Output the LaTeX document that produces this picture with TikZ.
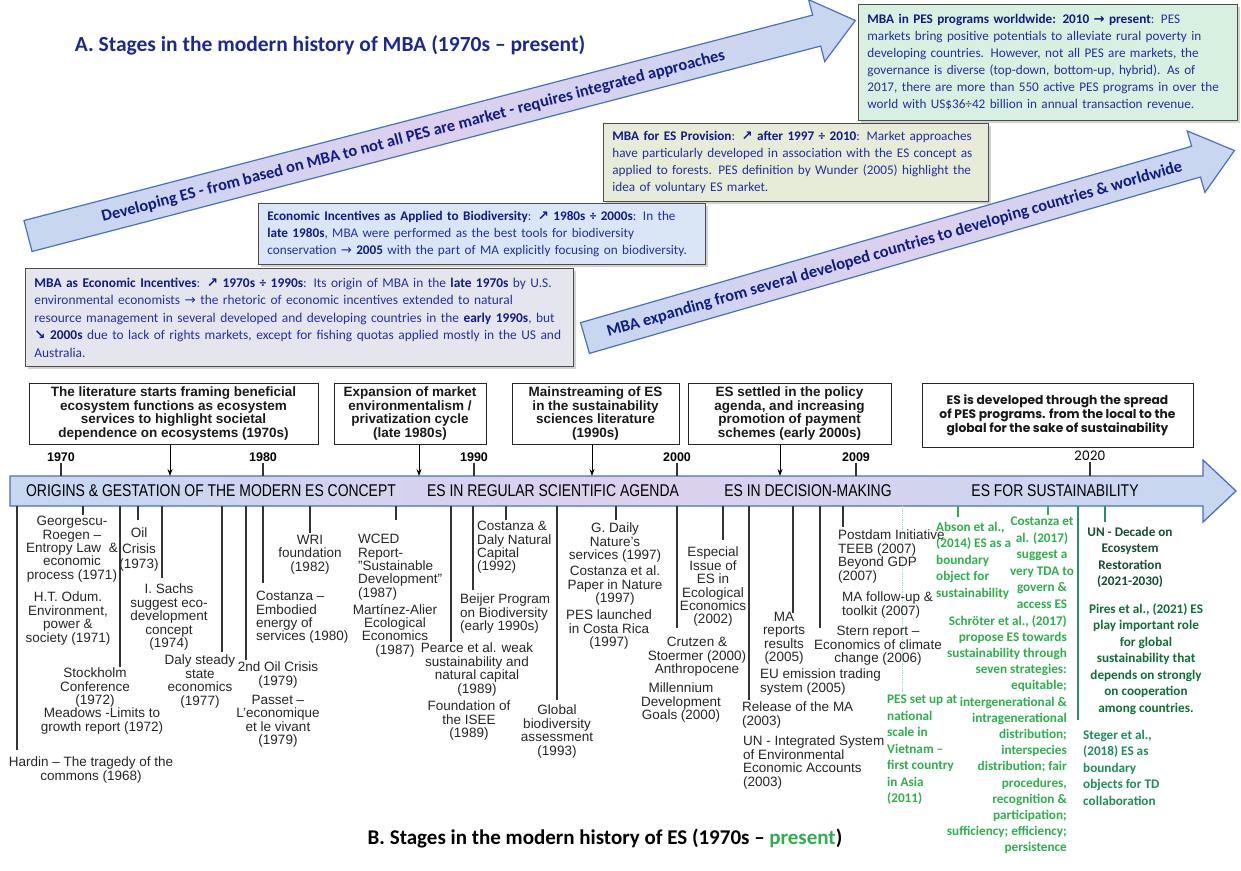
\documentclass[tikz,border=0pt]{standalone}
\usepackage{fontspec}
\setmainfont{Liberation Sans}
\newfontfamily\calfont{Carlito}
\newfontfamily\narrowfont[FakeStretch=0.82]{Liberation Sans}
\newfontfamily\gothfont{Poppins}
\newfontfamily\symfont{DejaVu Sans}
\usetikzlibrary{shadows,arrows.meta}
\definecolor{navyt}{HTML}{2230A0}
\definecolor{navyb}{HTML}{0F1C85}
\definecolor{titblue}{HTML}{1A2A8C}
\definecolor{bgreen}{HTML}{D8F0E0}
\definecolor{bolive}{HTML}{E6ECD7}
\definecolor{bblue}{HTML}{DAE5F5}
\definecolor{bgray}{HTML}{E5E6ED}
\definecolor{arrA}{HTML}{C6D7F0}
\definecolor{arrB}{HTML}{DDD0EC}
\definecolor{arrline}{HTML}{4A70C0}
\definecolor{labc}{HTML}{262626}
\definecolor{gA}{HTML}{2EAF4C}
\definecolor{gB}{HTML}{174D34}
\definecolor{gC}{HTML}{0F6E36}
\definecolor{gD}{HTML}{1E8C5C}
\definecolor{gline}{HTML}{2A8C6C}
\definecolor{gthin}{HTML}{A5DCAE}
\newlength\bw
\newcommand\jl[1]{\makebox[\bw][s]{#1}\\}
\newcommand\jlast[1]{\makebox[\bw][s]{#1}}
\newcommand\bld[1]{\textbf{\color{navyb}#1}}
\newcommand\ua{{\symfont\bfseries\color{navyb}↗}}
\newcommand\da{{\symfont\bfseries\color{navyb}↘}}
\newcommand\ra{{\symfont →}}
\begin{document}
\begin{tikzpicture}[x=1pt,y=-1pt,
  bigarrow/.style={draw=arrline, line width=1.2pt, left color=arrA, right color=arrA, middle color=arrB},
  arrtext/.style={font=\calfont\bfseries\fontsize{16.5}{18}\selectfont, text=navyb, inner sep=0pt},
  mbabox/.style={draw=black!70, line width=0.8pt, inner xsep=9pt, inner ysep=4pt, anchor=north west, align=left, text=navyt, font=\calfont\fontsize{13.2}{17}\selectfont, drop shadow={shadow xshift=3pt,shadow yshift=-3pt,fill=black!35}},
  hbox/.style={draw=black!85, line width=1pt, fill=white, align=center, font=\bfseries\fontsize{13.5}{13.5}\selectfont, inner sep=2pt, text=black!90},
  hdarr/.style={-{Stealth[length=7pt,width=5pt]}, line width=0.9pt},
  tick/.style={line width=1.2pt, draw=black!80},
  yr/.style={font=\bfseries\fontsize{12.5}{14}\selectfont, inner sep=1pt},
  bartxt/.style={font=\narrowfont\fontsize{17}{20}\selectfont, inner sep=0pt},
  lab/.style={inner sep=0pt, text=labc, font=\fontsize{13.5}{13.4}\selectfont, align=center, anchor=north},
  labl/.style={lab, align=left, anchor=north west},
  grn/.style={inner sep=0pt, font=\calfont\bfseries\fontsize{13.2}{16.5}\selectfont}
]
\useasboundingbox (0,0) rectangle (1241,870);
\fill[white] (0,0) rectangle (1241,870);

% ---------- Part A ----------
\node[font=\calfont\bfseries\fontsize{21.5}{24}\selectfont, text=titblue] (titA) at (330,45) {A. Stages in the modern history of MBA (1970s – present)};

\begin{scope}[shift={(28,236)}, rotate=14.6]
  \draw[bigarrow] (0,-16) -- (815,-16) -- (815,-32) -- (855,0) -- (815,32) -- (815,16) -- (0,16) -- cycle;
  \node[arrtext, transform shape] (arrAtxt) at (398,1) {Developing ES - from based on MBA to not all PES are market - requires integrated approaches};
\end{scope}
\begin{scope}[shift={(585,338)}, rotate=16.1]
  \draw[bigarrow] (0,-16) -- (636,-16) -- (636,-32) -- (676,0) -- (636,32) -- (636,16) -- (0,16) -- cycle;
  \node[arrtext, transform shape] (arrBtxt) at (322,1) {MBA expanding from several developed countries to developing countries \& worldwide};
\end{scope}

\node[mbabox, fill=bgreen, text width=361pt, minimum height=116pt] (tb) at (858,4) {\setlength\bw{361pt}%
\jl{\bld{MBA in PES programs worldwide: 2010 \ra{} present}: PES}
\jl{markets bring positive potentials to alleviate rural poverty in}
\jl{developing countries. However, not all PES are markets, the}
\jl{governance is diverse (top-down, bottom-up, hybrid). As of}
\jl{2017, there are more than 550 active PES programs in over the}
world with US\$36÷42 billion in annual transaction revenue.};

\node[mbabox, fill=bolive, text width=367pt, minimum height=78pt] (pb) at (603,123) {%
\bld{MBA for ES Provision}: \ua{} \bld{after 1997 ÷ 2010}: Market approaches\\
have particularly developed in association with the ES concept as\\
applied to forests. PES definition by Wunder (2005) highlight the\\
idea of voluntary ES market.};

\node[mbabox, fill=bblue, text width=429pt, minimum height=61pt] (eb) at (258,203) {\setlength\bw{429pt}%
\jl{\bld{Economic Incentives as Applied to Biodiversity}: \ua{} \bld{1980s ÷ 2000s}: In the}
\jl{\bld{late 1980s}, MBA were performed as the best tools for biodiversity}
\jlast{conservation \ra{} \bld{2005} with the part of MA explicitly focusing on biodiversity.}};

\node[mbabox, fill=bgray, text width=530pt, minimum height=98pt, font=\calfont\fontsize{13.4}{17.5}\selectfont] (mb) at (25,268) {\setlength\bw{530pt}%
\jl{\bld{MBA as Economic Incentives}: \ua{} \bld{1970s ÷ 1990s}: Its origin of MBA in the \bld{late 1970s} by U.S.}
\jl{environmental economists \ra{} the rhetoric of economic incentives extended to natural}
\jl{resource management in several developed and developing countries in the \bld{early 1990s}, but}
\jl{\da{} \bld{2000s} due to lack of rights markets, except for fishing quotas applied mostly in the US and}
Australia.};

% ---------- Part B ----------
\node[hbox, minimum width=289pt, minimum height=61pt] (hb1) at (173.5,413.5) {The literature starts framing beneficial\\ecosystem functions as ecosystem\\services to highlight societal\\dependence on ecosystems (1970s)};
\node[hbox, minimum width=152pt, minimum height=61pt] (hb2) at (410,413.5) {Expansion of market\\environmentalism /\\privatization cycle\\(late 1980s)};
\node[hbox, minimum width=167pt, minimum height=61pt] (hb3) at (595.5,413.5) {Mainstreaming of ES\\in the sustainability\\sciences literature\\(1990s)};
\node[hbox, minimum width=203pt, minimum height=61pt] (hb4) at (789.5,413.5) {ES settled in the policy\\agenda, and increasing\\promotion of payment\\schemes (early 2000s)};
\node[hbox, minimum width=271pt, minimum height=64pt, font=\gothfont\bfseries\fontsize{12.3}{14}\selectfont] (hb5) at (1057.5,415) {ES is developed through the spread\\of PES programs. from the local to the\\global for the sake of sustainability};

% timeline bar
\draw[bigarrow, line width=1.3pt] (10,476) -- (1203,476) -- (1203,460) -- (1236,491) -- (1203,522) -- (1203,506) -- (10,506) -- cycle;
\coordinate (bartop) at (0,476);
\coordinate (barbot) at (0,506);
\node[bartxt] (s1) at (211,491) {ORIGINS \& GESTATION OF THE MODERN ES CONCEPT};
\node[bartxt] (s2) at (553,491) {ES IN REGULAR SCIENTIFIC AGENDA};
\node[bartxt] (s3) at (808,491) {ES IN DECISION-MAKING};
\node[bartxt] (s4) at (1055,491) {ES FOR SUSTAINABILITY};

% header arrows
\coordinate (a1) at (170,476);
\coordinate (a2) at (419,476);
\coordinate (a3) at (592,476);
\coordinate (a4) at (780,476);
\draw[hdarr] (hb1.south -| a1) -- (a1);
\draw[hdarr] (hb2.south -| a2) -- (a2);
\draw[hdarr] (hb3.south -| a3) -- (a3);
\draw[hdarr] (hb4.south -| a4) -- (a4);

% years
\foreach \x/\t in {61/1970, 263/1980, 474/1990, 677/2000, 856/2009}{
  \node[yr] (yr\t) at (\x,457) {\t};
  \draw[tick] (yr\t.south) -- (yr\t.south |- bartop);
}
\node[font=\gothfont\fontsize{13}{15}\selectfont, inner sep=1pt] (yr2020) at (1090,456) {2020};
\draw[tick] (yr2020.south) -- (yr2020.south |- bartop);

% ticks below bar
\foreach \x/\y in {17/750, 83/515, 120/667, 138/520, 162/578, 222/652, 246/660, 263/583, 310/533, 396/520, 451/642, 473/590, 506/520, 557/700, 616/520, 677/628, 723/540, 749/700, 793/613, 820/628, 843/527}{
  \coordinate (ta\x) at (\x,506);
  \coordinate (tb\x) at (\x,\y);
  \draw[tick] (ta\x) -- (tb\x);
}
\coordinate (g1a) at (902,506); \coordinate (g1b) at (902,693);
\draw[gthin, line width=0.8pt, densely dotted] (g1a) -- (g1b);
\coordinate (g2a) at (958,506); \coordinate (g2b) at (958,517);
\draw[gA, line width=1.2pt] (g2a) -- (g2b);
\coordinate (g3a) at (1048,506); \coordinate (g3b) at (1048,515);
\draw[gA, line width=1.2pt] (g3a) -- (g3b);
\coordinate (g4a) at (1078,506); \coordinate (g4b) at (1078,720);
\draw[gline, line width=1.3pt] (g4a) -- (g4b);
\coordinate (g5a) at (1105,506); \coordinate (g5b) at (1105,522);
\draw[gline, line width=1.3pt] (g5a) -- (g5b);

% black labels
\node[lab] (geo) at (72,516) {Georgescu-\\Roegen –\\Entropy Law\ \ \&\\economic\\process (1971)};
\node[lab] (odum) at (68,592) {H.T. Odum.\\Environment,\\power \&\\society (1971)};
\node[lab, font=\fontsize{13.5}{15.5}\selectfont] (oil) at (139,528) {Oil\\Crisis\\(1973)};
\node[lab] (sachs) at (169,584) {I. Sachs\\suggest eco-\\development\\concept\\(1974)};
\node[lab] (stock) at (95,668) {Stockholm\\Conference\\(1972)};
\node[lab] (mead) at (102,708) {Meadows -Limits to\\growth report (1972)};
\node[lab] (hardin) at (91,757) {Hardin – The tragedy of the\\commons (1968)};
\node[lab] (daly) at (200,655) {Daly steady\\state\\economics\\(1977)};
\node[lab] (oil2) at (278,662) {2nd Oil Crisis\\(1979)};
\node[lab] (passet) at (278,695) {Passet –\\L'economique\\et le vivant\\(1979)};
\node[lab] (wri) at (310,535) {WRI\\foundation\\(1982)};
\node[labl] (cost80) at (256,591) {Costanza –\\Embodied\\energy of\\services (1980)};
\node[labl] (wced) at (358,534) {WCED\\Report-\\"Sustainable\\Development"\\(1987)};
\node[lab] (mart) at (395,604) {Martínez-Alier\\Ecological\\Economics\\(1987)};
\node[labl] (cd92) at (477,521) {Costanza \&\\Daly Natural\\Capital\\(1992)};
\node[labl] (beij) at (460,594) {Beijer Program\\on Biodiversity\\(early 1990s)};
\node[lab] (pearce) at (477,643) {Pearce et al. weak\\sustainability and\\natural capital\\(1989)};
\node[lab] (isee) at (469,701) {Foundation of\\the ISEE\\(1989)};
\node[lab] (gba) at (557,705) {Global\\biodiversity\\assessment\\(1993)};
\node[lab] (daily) at (615,523) {G. Daily\\Nature's\\services (1997)};
\node[lab] (nat97) at (615,566) {Costanza et al.\\Paper in Nature\\(1997)};
\node[lab] (pescr) at (609,610) {PES launched\\in Costa Rica\\(1997)};
\node[lab] (espec) at (713,547) {Especial\\Issue of\\ES in\\Ecological\\Economics\\(2002)};
\node[lab] (crutz) at (697,637) {Crutzen \&\\Stoermer (2000)\\Anthropocene};
\node[lab] (mdg) at (681,683) {Millennium\\Development\\Goals (2000)};
\node[labl] (relma) at (742,702) {Release of the MA\\(2003)};
\node[labl] (unint) at (743,736) {UN - Integrated System\\of Environmental\\Economic Accounts\\(2003)};
\node[labl] (euets) at (760,669) {EU emission trading\\system (2005)};
\node[lab] (mares) at (784,612) {MA\\reports\\results\\(2005)};
\node[lab] (stern) at (878,626) {Stern report –\\Economics of climate\\change (2006)};
\node[labl] (postd) at (838,530) {Postdam Initiative\\TEEB (2007)};
\node[labl] (bgdp) at (838,557) {Beyond GDP\\(2007)};
\node[labl] (mafol) at (842,592) {MA follow-up \&\\toolkit (2007)};

% green labels
\node[grn, text=gA, align=left, anchor=north west] (pesvn) at (887,695) {PES set up at\\national\\scale in\\Vietnam –\\first country\\in Asia\\(2011)};
\node[grn, text=gA, align=left, anchor=north west] (abson) at (936,522) {Abson et al.,\\(2014) ES as a\\boundary\\object for\\sustainability};
\node[grn, text=gA, align=center, anchor=north] (cost17) at (1042,517) {Costanza et\\al. (2017)\\suggest a\\very TDA to\\govern \&\\access ES};
\node[grn, text=gA, align=right, anchor=north east, font=\calfont\bfseries\fontsize{13.2}{16.2}\selectfont] (schr) at (1067,615) {Schröter et al., (2017)\\propose ES towards\\sustainability through\\seven strategies:\\equitable;\\intergenerational \&\\intragenerational\\distribution;\\interspecies\\distribution; fair\\procedures,\\recognition \&\\participation;\\sufficiency; efficiency;\\persistence};
\node[grn, text=gB, align=center, anchor=north] (undec) at (1130,527) {UN - Decade on\\Ecosystem\\Restoration\\(2021-2030)};
\node[grn, text=gC, align=center, anchor=north] (pires) at (1146,603) {Pires et al., (2021) ES\\play important role\\for global\\sustainability that\\depends on strongly\\on cooperation\\among countries.};
\node[grn, text=gD, align=left, anchor=north west] (steger) at (1083,730) {Steger et al.,\\(2018) ES as\\boundary\\objects for TD\\collaboration};

\node[font=\calfont\bfseries\fontsize{21}{24}\selectfont] (titB) at (605,838) {B. Stages in the modern history of ES (1970s – \textcolor{gA}{present})};
\end{tikzpicture}
\end{document}
